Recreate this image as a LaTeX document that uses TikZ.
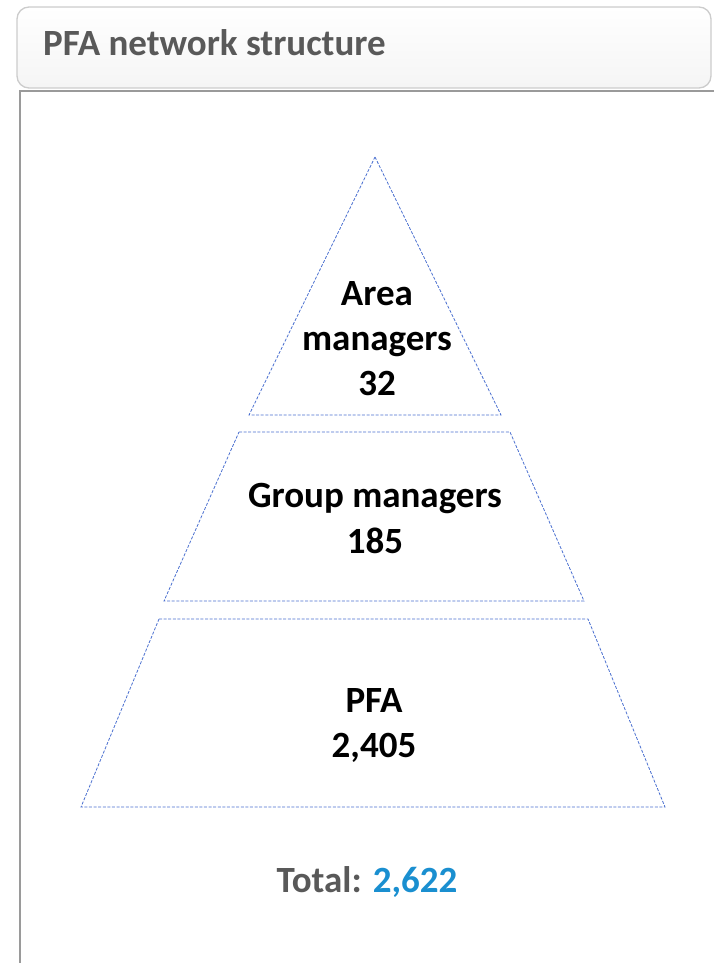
\documentclass[tikz,border=0pt]{standalone}
\usepackage{fontspec}
\setmainfont{Carlito}
\definecolor{titlegrey}{HTML}{595959}
\definecolor{tierblue}{HTML}{4A6FD0}
\definecolor{totalblue}{HTML}{1A8FD0}
\definecolor{panelgrey}{HTML}{9A9A9A}
\begin{document}
\begin{tikzpicture}[x=1pt,y=-1pt,
  tieredge/.style={draw=tierblue, line width=0.8pt, dash pattern=on 3pt off 1.6pt, line join=miter},
  tiertext/.style={align=center, inner sep=0pt, font=\bfseries\fontsize{37}{45}\selectfont, text=black},
  totaltext/.style={inner sep=0pt, font=\bfseries\fontsize{37}{45}\selectfont}]
\useasboundingbox (0,0) rectangle (713,963);
% header bar
\shade[rounded corners=12pt, top color=white, bottom color=black!4] (17,7) rectangle (711,88);
\draw[rounded corners=12pt, draw=black!20, line width=1.3pt] (17,7) rectangle (711,88);
\node[anchor=base west, inner sep=0pt, font=\bfseries\fontsize{37}{45}\selectfont, text=titlegrey] (title) at (43,56) {PFA network structure};
% panel
\draw[draw=panelgrey, line width=2.2pt] (20,966) -- (20,91) -- (716,91);
% pyramid tiers
\draw[tieredge] (375,157) -- (501,415) -- (249,415) -- cycle;
\draw[tieredge] (239,432) -- (510,432) -- (584,601) -- (164,601) -- cycle;
\draw[tieredge] (159,619) -- (588,619) -- (665,807) -- (81,807) -- cycle;
% texts
\node[tiertext] (top) at (377,339) {Area\\managers\\32};
\node[tiertext, font=\bfseries\fontsize{37}{46}\selectfont] (mid) at (375,518.5) {Group managers\\185};
\node[tiertext] (bot) at (374,725.5) {PFA\\2,405};
\node[totaltext, anchor=base] (total) at (367,892) {\textcolor{titlegrey}{Total:} \textcolor{totalblue}{2,622}};
\end{tikzpicture}
\end{document}
